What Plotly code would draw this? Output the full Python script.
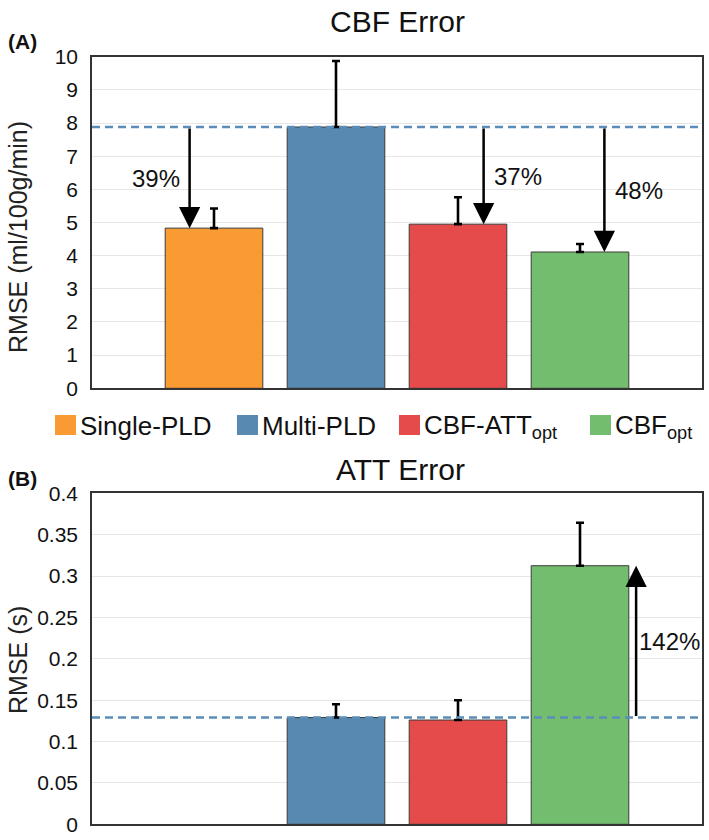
import plotly.graph_objects as go

# data
methods = ["Single-PLD", "Multi-PLD", "CBF-ATT<sub>opt</sub>", "CBF<sub>opt</sub>"]
colors = ["#F99A33", "#5889B0", "#E64B4B", "#73BE6E"]
positions = [1, 2, 3, 4]

cbf_rmse = [4.83, 7.88, 4.95, 4.11]
cbf_err = [0.59, 1.99, 0.81, 0.24]
att_rmse = [None, 0.129, 0.126, 0.3125]
att_err = [None, 0.016, 0.024, 0.052]

cbf_change = ["39%", None, "37%", "48%"]
att_change = [None, None, None, "142%"]

REF = 1  # Multi-PLD is the baseline (dashed line)
FONT = "Liberation Sans, Arial, Helvetica, sans-serif"

fig = go.Figure()

for rmse, err, xa, ya in [(cbf_rmse, cbf_err, "x", "y"), (att_rmse, att_err, "x2", "y2")]:
    fig.add_trace(go.Bar(
        x=positions, y=rmse, width=0.8,
        marker=dict(color=colors, line=dict(color="#3a3a3a", width=1)),
        error_y=dict(type="data", array=err, arrayminus=[0] * len(err), symmetric=False,
                     color="black", thickness=2.6, width=4),
        xaxis=xa, yaxis=ya, showlegend=False,
    ))
    fig.add_trace(go.Scatter(
        x=[0, 5], y=[rmse[REF], rmse[REF]], mode="lines",
        line=dict(color="#5B8DB8", width=2.5, dash="8px,5px"),
        xaxis=xa, yaxis=ya, showlegend=False, hoverinfo="skip",
    ))

annotations = []

# arrows + percentage labels, top panel
arrow_dx = [-0.2, 0, 0.21, 0.2]
label_cfg = [("right", -0.06, 6.34), None, ("left", 0.07, 6.40), ("left", 0.07, 5.98)]
for i, lab in enumerate(cbf_change):
    if lab is None:
        continue
    ax_x = positions[i] + arrow_dx[i]
    annotations.append(dict(
        x=ax_x, y=cbf_rmse[i], ax=ax_x, ay=cbf_rmse[REF], xref="x", yref="y",
        axref="x", ayref="y", text="", showarrow=True, arrowhead=2,
        arrowwidth=2.5, arrowsize=1.7, arrowcolor="black", standoff=0,
    ))
    anchor, dx, ly = label_cfg[i]
    annotations.append(dict(
        x=ax_x + dx, y=ly, xref="x", yref="y", text=lab, showarrow=False,
        xanchor=anchor, yanchor="middle", font=dict(size=24, color="#111", family=FONT),
    ))

# arrow + label, bottom panel
for i, lab in enumerate(att_change):
    if lab is None:
        continue
    ax_x = positions[i] + 0.46
    annotations.append(dict(
        x=ax_x, y=att_rmse[i], ax=ax_x, ay=att_rmse[REF], xref="x2", yref="y2",
        axref="x2", ayref="y2", text="", showarrow=True, arrowhead=2,
        arrowwidth=2.5, arrowsize=1.7, arrowcolor="black", standoff=0,
    ))
    annotations.append(dict(
        x=ax_x + 0.005, y=0.221, xref="x2", yref="y2", text=lab, showarrow=False,
        xanchor="left", yanchor="middle", font=dict(size=24, color="#111", family=FONT),
    ))

# titles, panel letters, axis titles
W, H = 709, 840
def px(x, y):
    return x / W, 1 - y / H

for text, (x, y), size, anchor in [
    ("CBF Error", (397, 21), 30, "center"),
    ("ATT Error", (400, 469), 30, "center"),
    ("<b>(A)</b>", (6, 41), 21, "left"),
    ("<b>(B)</b>", (6, 478), 21, "left"),
]:
    xx, yy = px(x, y)
    annotations.append(dict(x=xx, y=yy, xref="paper", yref="paper", text=text,
                            showarrow=False, xanchor=anchor, yanchor="middle",
                            font=dict(size=size, color="#111", family=FONT)))

for text, (x, y) in [("RMSE (ml/100g/min)", (18, 237)), ("RMSE (s)", (18, 660))]:
    xx, yy = px(x, y)
    annotations.append(dict(x=xx, y=yy, xref="paper", yref="paper", text=text,
                            showarrow=False, textangle=-90, xanchor="center", yanchor="middle",
                            font=dict(size=25, color="#222", family=FONT)))

# legend drawn by hand (large square swatches)
shapes = []
legend_x = [55, 237, 399, 590]
for name, col, lx in zip(methods, colors, legend_x):
    x0, y0 = px(lx, 435)
    x1, y1 = px(lx + 21, 415)
    shapes.append(dict(type="rect", xref="paper", yref="paper", x0=x0, x1=x1, y0=y0, y1=y1,
                       fillcolor=col, line=dict(width=0)))
    tx, ty = px(lx + 23, 426)
    annotations.append(dict(x=tx, y=ty, xref="paper", yref="paper", text=name,
                            showarrow=False, xanchor="left", yanchor="middle",
                            font=dict(size=26, color="#111", family=FONT)))

xdom = [92 / W, 702 / W]
axis_common = dict(showline=True, mirror=True, linecolor="#333", linewidth=1.5,
                   zeroline=False, automargin=False, fixedrange=True)
xaxis_style = dict(axis_common, range=[0, 5], showticklabels=False, showgrid=False,
                   ticks="", domain=xdom)
yaxis_style = dict(axis_common, showgrid=True, gridcolor="#e6e6e6", gridwidth=1,
                   ticks="", ticklabelstandoff=8,
                   tickfont=dict(size=21, color="#111", family=FONT))

fig.update_layout(
    width=W, height=H,
    margin=dict(l=0, r=0, t=0, b=0),
    paper_bgcolor="white", plot_bgcolor="white",
    xaxis=dict(xaxis_style, anchor="y"),
    yaxis=dict(yaxis_style, range=[0, 10], dtick=1, anchor="x",
               domain=[1 - 388.3 / H, 1 - 56.7 / H]),
    xaxis2=dict(xaxis_style, anchor="y2"),
    yaxis2=dict(yaxis_style, range=[0, 0.4], dtick=0.05, anchor="x2",
                domain=[1 - 824.3 / H, 1 - 493.3 / H]),
    annotations=annotations,
    shapes=shapes,
    showlegend=False,
)

# page body has a default 8px margin; drop it so the figure fills the window
fig.write_html("out.html", config={"displayModeBar": False},
               post_script="document.body.style.margin='0';")
